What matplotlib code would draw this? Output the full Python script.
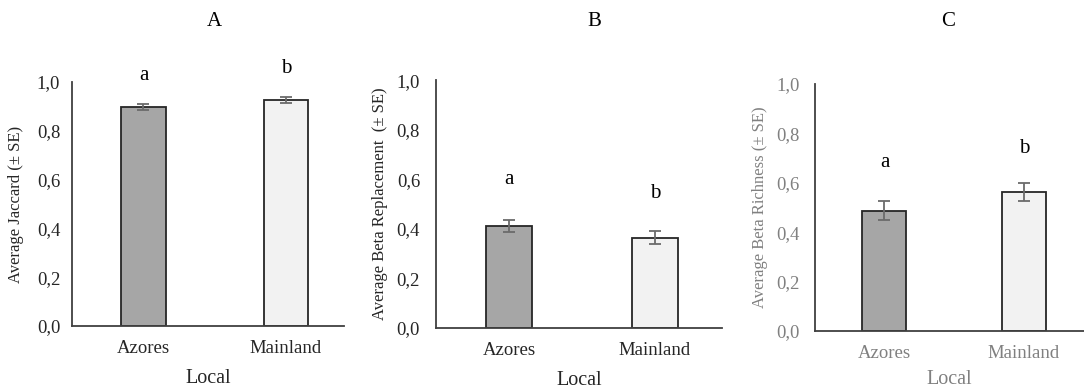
import matplotlib
matplotlib.use("Agg")
import matplotlib.pyplot as plt

categories = ["Azores", "Mainland"]
titles = ["A", "B", "C"]
ylabels = ["Average Jaccard (± SE)", "Average Beta Replacement  (± SE)", "Average Beta Richness (± SE)"]
jaccard = [0.898, 0.926]
jaccard_se = [0.012, 0.012]
replacement = [0.412, 0.364]
replacement_se = [0.024, 0.026]
richness = [0.487, 0.563]
richness_se = [0.038, 0.038]
letters = ["a", "b"]
yticks = [0.0, 0.2, 0.4, 0.6, 0.8, 1.0]
yticklabels = ["0,0", "0,2", "0,4", "0,6", "0,8", "1,0"]

values = [jaccard, replacement, richness]
errors = [jaccard_se, replacement_se, richness_se]
letter_y = [[1.029, 1.057], [0.597, 0.544], [0.684, 0.741]]

plt.rcParams['font.family'] = ['Liberation Serif', 'DejaVu Serif']

fig = plt.figure(figsize=(10.84, 3.89), dpi=100)
positions = [
    [0.0664, 0.162, 0.2509, 0.627],
    [0.4022, 0.157, 0.264, 0.637],
    [0.7518, 0.149, 0.2482, 0.635],
]
xlims = [(-0.502, 1.407), (-0.5, 1.46), (-0.498, 1.43)]
title_x = [214, 594, 948]
ylabel_right = [24, 388, 768]
ytick_pad = [8.5, 11.5, 11]
xlabel_pad = [9, 9, 6]
text_colors = ["#262626", "#262626", "#808080"]
bar_colors = ["#a6a6a6", "#f2f2f2"]

for i in range(3):
    ax = fig.add_axes(positions[i])
    x = range(len(categories))
    ax.bar(x, values[i], width=0.315, color=bar_colors, edgecolor="#262626",
           linewidth=1.3, zorder=2)
    ax.errorbar(x, values[i], yerr=errors[i], fmt="none", ecolor="#6b6b6b",
                elinewidth=1.3, capsize=4, capthick=1.3, zorder=3)
    for j in range(2):
        ax.text(j, letter_y[i][j], letters[j], ha="center", va="center",
                fontsize=15, color="black", clip_on=False)
    ax.set_ylim(0, 1.0)
    ax.set_xlim(*xlims[i])
    ax.set_yticks(yticks)
    ax.set_yticklabels(yticklabels)
    ax.set_xticks(list(x))
    ax.set_xticklabels(categories)
    ax.tick_params(axis="both", length=0, labelsize=13.5, labelcolor=text_colors[i])
    ax.tick_params(axis="y", pad=ytick_pad[i])
    ax.tick_params(axis="x", pad=10)
    for s in ["top", "right"]:
        ax.spines[s].set_visible(False)
    for s in ["left", "bottom"]:
        ax.spines[s].set_color("#404040")
        ax.spines[s].set_linewidth(1.3)
    ax.set_xlabel("Local", fontsize=14.5, color=text_colors[i], labelpad=xlabel_pad[i])
    ax.set_ylabel(ylabels[i], fontsize=12, color=text_colors[i])
    ax.yaxis.set_label_coords((ylabel_right[i] - positions[i][0] * 1084) / (positions[i][2] * 1084), 0.5)
    fig.text(title_x[i] / 1084, 1 - 22 / 389, titles[i], ha="center", va="center",
             fontsize=15, color="black")

fig.savefig("out.png", dpi=100)
